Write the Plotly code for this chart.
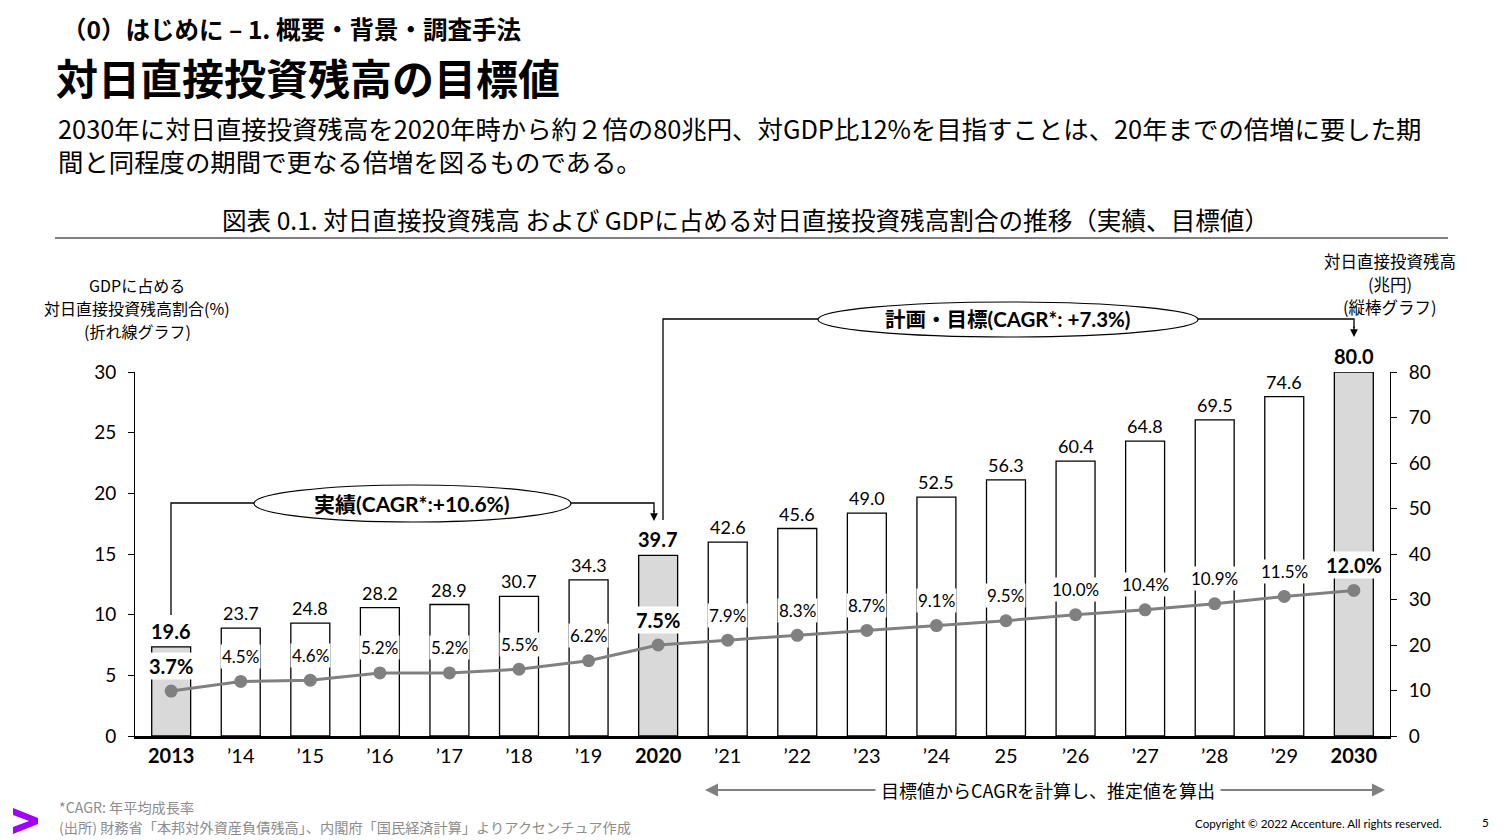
import plotly.graph_objects as go

years = ["2013", "’14", "’15", "’16", "’17", "’18", "’19", "2020", "’21", "’22",
         "’23", "’24", "25", "’26", "’27", "’28", "’29", "2030"]
balance = [19.6, 23.7, 24.8, 28.2, 28.9, 30.7, 34.3, 39.7, 42.6, 45.6,
           49.0, 52.5, 56.3, 60.4, 64.8, 69.5, 74.6, 80.0]
gdp_ratio = [3.7, 4.5, 4.6, 5.2, 5.2, 5.5, 6.2, 7.5, 7.9, 8.3,
             8.7, 9.1, 9.5, 10.0, 10.4, 10.9, 11.5, 12.0]
highlight = [True, False, False, False, False, False, False, True, False, False,
             False, False, False, False, False, False, False, True]

W, H = 1503, 840
L, R, T, B = 135, 1390, 372, 736
FONT = "Lato, 'Noto Sans CJK JP', sans-serif"
JFONT = "'Noto Sans CJK JP', sans-serif"


def px(x):
    return (x - L) / (R - L)


def py(y):
    return (B - y) / (B - T)


xs = list(range(len(years)))

fig = go.Figure()
fig.add_trace(go.Bar(
    x=xs, y=balance, yaxis="y",
    marker=dict(color=["#d9d9d9" if h else "white" for h in highlight],
                line=dict(color="black", width=1.3)),
    width=0.56, showlegend=False, hoverinfo="skip"))
fig.add_trace(go.Scatter(
    x=xs, y=gdp_ratio, yaxis="y2", mode="lines+markers",
    line=dict(color="#808080", width=3),
    marker=dict(color="#808080", size=13),
    showlegend=False, hoverinfo="skip"))

ann = []
shapes = []

# bar value labels
for i, (v, h) in enumerate(zip(balance, highlight)):
    ann.append(dict(x=i, y=v, xref="x", yref="y", yanchor="bottom", yshift=2,
                    text=f"<b>{v:.1f}</b>" if h else f"{v:.1f}", showarrow=False,
                    font=dict(family=FONT, size=20 if h else 18, color="black")))
# percent labels
for i, (v, h) in enumerate(zip(gdp_ratio, highlight)):
    ann.append(dict(x=i, y=v, xref="x", yref="y2", yanchor="middle", yshift=25,
                    text=f"<b>{v:.1f}%</b>" if h else f"{v:.1f}%", showarrow=False,
                    bgcolor="white", borderpad=1,
                    font=dict(family=FONT, size=20 if h else 17, color="black")))


def ptext(x, y, text, size, color="black", xanchor="center", bold=False, family=JFONT, **kw):
    ann.append(dict(x=px(x), y=py(y), xref="paper", yref="paper", xanchor=xanchor,
                    yanchor="middle", text=f"<b>{text}</b>" if bold else text,
                    showarrow=False, font=dict(family=family, size=size, color=color), **kw))


# headings
ptext(60, 28, "（0）はじめに – 1. 概要・背景・調査手法", 24.5, xanchor="left", bold=True)
ptext(54, 76, "対日直接投資残高の目標値", 42, xanchor="left", bold=True)
ptext(56, 128, "2030年に対日直接投資残高を2020年時から約２倍の80兆円、対GDP比12%を目指すことは、20年までの倍増に要した期",
      25.4, xanchor="left")
ptext(56, 161, "間と同程度の期間で更なる倍増を図るものである。", 25.4, xanchor="left")
ptext(745, 219, "図表 0.1. 対日直接投資残高 および GDPに占める対日直接投資残高割合の推移（実績、目標値）", 24.6)
shapes.append(dict(type="line", xref="paper", yref="paper", x0=px(55), x1=px(1448),
                   y0=py(238), y1=py(238), line=dict(color="black", width=1)))

# axis titles
for yy, t in ((285, "GDPに占める"), (308, "対日直接投資残高割合(%)"), (331, "(折れ線グラフ)")):
    ptext(137, yy, t, 16)
for yy, t in ((261, "対日直接投資残高"), (284, "(兆円)"), (307, "(縦棒グラフ)")):
    ptext(1390, yy, t, 16.5)

# callout 実績
shapes.append(dict(type="path", xref="paper", yref="paper",
                   path=f"M{px(171)},{py(615)} L{px(171)},{py(503)} L{px(654)},{py(503)} L{px(654)},{py(512)}",
                   line=dict(color="black", width=1.3)))
ann.append(dict(x=px(654), y=py(521), xref="paper", yref="paper", ax=0, ay=-12,
                axref="pixel", ayref="pixel", showarrow=True, arrowhead=2, arrowsize=1.2,
                arrowwidth=1.3, arrowcolor="black", text=""))
shapes.append(dict(type="circle", xref="paper", yref="paper", x0=px(254), x1=px(571),
                   y0=py(522), y1=py(485), fillcolor="white", line=dict(color="black", width=1.2)))
ptext(412, 503, "実績(CAGR*:+10.6%)", 21, bold=True, family=FONT)

# callout 計画・目標
shapes.append(dict(type="path", xref="paper", yref="paper",
                   path=f"M{px(663)},{py(520)} L{px(663)},{py(319)} L{px(1354)},{py(319)} L{px(1354)},{py(328)}",
                   line=dict(color="black", width=1.3)))
ann.append(dict(x=px(1354), y=py(337), xref="paper", yref="paper", ax=0, ay=-12,
                axref="pixel", ayref="pixel", showarrow=True, arrowhead=2, arrowsize=1.2,
                arrowwidth=1.3, arrowcolor="black", text=""))
shapes.append(dict(type="circle", xref="paper", yref="paper", x0=px(818), x1=px(1198),
                   y0=py(337), y1=py(302), fillcolor="white", line=dict(color="black", width=1.2)))
ptext(1008, 319, "計画・目標(CAGR*: +7.3%)", 20.5, bold=True, family=FONT)

# bottom double arrow
for tip, off in ((705, 340), (1385, -340)):
    ann.append(dict(x=px(tip), y=py(790), xref="paper", yref="paper", ax=off, ay=0,
                    axref="pixel", ayref="pixel", showarrow=True, arrowhead=2, arrowsize=1.3,
                    arrowwidth=2, arrowcolor="#808080", text=""))
ptext(1048, 790, "目標値からCAGRを計算し、推定値を算出", 18, bgcolor="white", borderpad=5)

# footnotes
ptext(57, 807, "*CAGR: 年平均成長率", 14.2, color="#8c8c8c", xanchor="left")
ptext(57, 827, "(出所) 財務省「本邦対外資産負債残高」、内閣府「国民経済計算」よりアクセンチュア作成", 14.2,
      color="#8c8c8c", xanchor="left")
ptext(1318, 823, "Copyright © 2022 Accenture. All rights reserved.", 11.6, family=FONT)
ptext(1485, 822, "5", 11.6, family=FONT)

# accenture logo
pts = [(13, 808), (38, 818), (38, 824), (13, 834), (13, 827), (29, 821), (13, 815)]
path = "M" + " L".join(f"{px(a)},{py(b)}" for a, b in pts) + " Z"
shapes.append(dict(type="path", xref="paper", yref="paper", path=path,
                   fillcolor="#a100ff", line=dict(width=0)))

ticktext = [f"<b>{t}</b>" if h else t for t, h in zip(years, highlight)]

fig.update_layout(
    width=W, height=H,
    margin=dict(l=L, r=W - R, t=T, b=H - B, pad=0),
    paper_bgcolor="white", plot_bgcolor="white",
    bargap=0.44,
    xaxis=dict(range=[-0.52, 17.52], tickvals=xs, ticktext=ticktext, showgrid=False,
               zeroline=False, showline=True, linecolor="black", linewidth=3,
               ticks="", tickfont=dict(family=FONT, size=20, color="black")),
    yaxis=dict(range=[0, 80], dtick=10, side="right", showgrid=False, zeroline=False,
               showline=True, linecolor="black", linewidth=1, ticks="outside", ticklen=6,
               tickcolor="black", ticklabelstandoff=8,
               tickfont=dict(family=FONT, size=19, color="black")),
    yaxis2=dict(range=[0, 30], dtick=5, side="left", overlaying="y", showgrid=False,
                zeroline=False, showline=True, linecolor="black", linewidth=1,
                ticks="outside", ticklen=6, tickcolor="black", ticklabelstandoff=8,
                tickfont=dict(family=FONT, size=19, color="black")),
    annotations=ann, shapes=shapes,
)

fig.write_html("out.html")
